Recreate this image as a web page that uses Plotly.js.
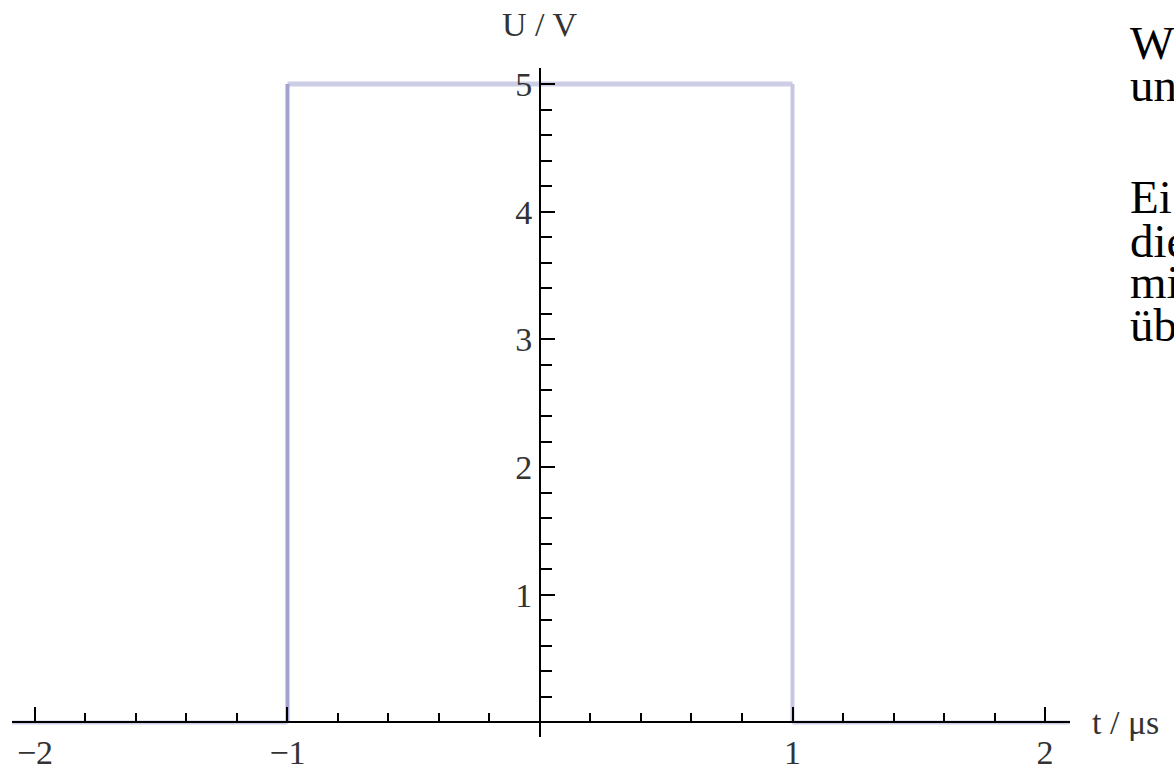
<!DOCTYPE html>
<html>
<head>
<meta charset="utf-8">
<script src="https://cdn.plot.ly/plotly-3.0.1.min.js"></script>
<style>
  html, body { margin: 0; padding: 0; background: #fff; overflow: hidden; }
  #plot { width: 1174px; height: 769px; }
</style>
</head>
<body>
<div id="plot"></div>
<script>
// Rectangular pulse: U = 5 V for -1 µs < t < 1 µs, 0 V elsewhere
const pulseEdges = [-1, 1];          // t / µs
const pulseLevels = [0, 5];          // U / V (low, high)
const tLimits = [-2.091, 2.099];     // visible time span
const uLimits = [-0.114, 5.125];     // visible voltage span

const xTickVals = [-2, -1, 1, 2];
const xTickText = ['\u22122', '\u22121', '1', '2'];
const yTickVals = [1, 2, 3, 4, 5];
const yTickText = ['1', '2', '3', '4', '5'];

// text lines running beside the chart (first paragraph, then second)
const sideLines = ['W', 'un', 'Ei', 'die', 'mi', '\u00fcb'];
const sideLineShift = [25, -17, -129, -173, -214, -257];   // px above the top of the plot area

const lo = pulseLevels[0], hi = pulseLevels[1];
const t0 = pulseEdges[0], t1 = pulseEdges[1];

const traces = [
  // baseline before and after the pulse
  { x: [tLimits[0], t0], y: [lo, lo], line: { color: '#cbcbe5', width: 4 } },
  { x: [t1, tLimits[1]], y: [lo, lo], line: { color: '#cbcbe5', width: 4 } },
  // plateau
  { x: [t0, t1], y: [hi, hi], line: { color: '#cdcde6', width: 5 } },
  // rising edge
  { x: [t0, t0], y: [lo, hi], line: { color: '#a2a2d2', width: 4 } },
  // falling edge
  { x: [t1, t1], y: [lo, hi], line: { color: '#c6c6e2', width: 4 } }
].map(t => Object.assign({ type: 'scatter', mode: 'lines', hoverinfo: 'skip', showlegend: false }, t));

const tickFont = { family: 'Liberation Serif, Times New Roman, serif', size: 34, color: '#333' };
const textFont = { family: 'Liberation Serif, Times New Roman, serif', size: 47, color: '#000' };

// position of each axis where the other one crosses zero
const xAxisPos = (0 - uLimits[0]) / (uLimits[1] - uLimits[0]);
const yAxisPos = (0 - tLimits[0]) / (tLimits[1] - tLimits[0]);

const annotations = [
  { text: 'U / V', xref: 'x', yref: 'paper', x: 0, y: 1, yshift: 44, xanchor: 'center', yanchor: 'middle', showarrow: false, font: tickFont },
  { text: 't / \u03bcs', xref: 'paper', yref: 'y', x: 1, y: 0, xshift: 20, xanchor: 'left', yanchor: 'middle', showarrow: false, font: tickFont }
];
sideLines.forEach((s, i) => annotations.push({
  text: s, xref: 'paper', yref: 'paper', x: 1, xshift: 58, y: 1, yshift: sideLineShift[i],
  xanchor: 'left', yanchor: 'middle', align: 'left', showarrow: false, font: textFont
}));

const layout = {
  width: 1174, height: 769,
  margin: { l: 12, r: 104, t: 68, b: 32 },
  paper_bgcolor: '#fff', plot_bgcolor: '#fff',
  showlegend: false,
  xaxis: {
    range: tLimits, anchor: 'free', position: xAxisPos,
    showgrid: false, zeroline: false,
    showline: true, linecolor: '#000', linewidth: 2,
    tickmode: 'array', tickvals: xTickVals, ticktext: xTickText,
    ticks: 'inside', ticklen: 14, tickwidth: 2, tickcolor: '#000',
    ticklabelstandoff: 0,
    tickfont: tickFont,
    minor: { tickmode: 'linear', tick0: 0, dtick: 0.2, ticks: 'inside', ticklen: 8, tickwidth: 2, tickcolor: '#000' }
  },
  yaxis: {
    range: uLimits, anchor: 'free', position: yAxisPos,
    showgrid: false, zeroline: false,
    showline: true, linecolor: '#000', linewidth: 2,
    tickmode: 'array', tickvals: yTickVals, ticktext: yTickText,
    ticks: 'inside', ticklen: 14, tickwidth: 2, tickcolor: '#000',
    tickfont: tickFont,
    minor: { tickmode: 'linear', tick0: 0, dtick: 0.2, ticks: 'inside', ticklen: 11, tickwidth: 2, tickcolor: '#000' }
  },
  annotations: annotations
};

Plotly.newPlot('plot', traces, layout, { displayModeBar: false, staticPlot: true });
</script>
</body>
</html>
